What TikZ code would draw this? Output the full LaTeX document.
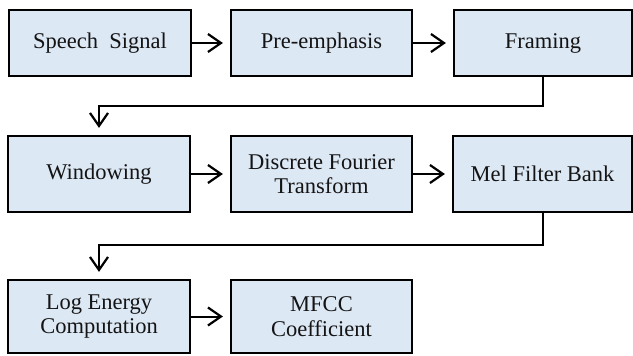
\documentclass[tikz,border=0pt]{standalone}
\usepackage{fontspec}
\setmainfont{Liberation Serif}
\newfontfamily\serifbox{Liberation Serif}
\usetikzlibrary{arrows.meta}
\definecolor{boxfill}{RGB}{221,232,245}
\definecolor{txt}{RGB}{20,20,20}
\begin{document}
\begin{tikzpicture}[x=1pt,y=-1pt,
  stepbox/.style={draw=black,line width=2.2pt,fill=boxfill,inner sep=0pt,
    text=txt,align=center,font=\serifbox\fontsize{22.5}{24.5}\selectfont},
  conn/.style={line width=2pt,-{Straight Barb[length=13pt,width=18pt,line width=2.2pt]},shorten >=7pt}]
\useasboundingbox (0,0) rectangle (633,356);
% row 1
\node[stepbox,minimum width=182pt,minimum height=66pt] (sp) at (100,43) {Speech\ \ Signal};
\node[stepbox,minimum width=181pt,minimum height=66pt] (pe) at (321.5,43) {Pre-emphasis};
\node[stepbox,minimum width=178pt,minimum height=66pt] (fr) at (543,43) {Framing};
% row 2
\node[stepbox,minimum width=182pt,minimum height=76pt] (wi) at (99,174) {Windowing};
\node[stepbox,minimum width=181pt,minimum height=76pt] (df) at (321.5,174) {Discrete Fourier\\Transform};
\node[stepbox,minimum width=179pt,minimum height=76pt] (mel) at (542.5,174) {Mel Filter Bank};
% row 3
\node[stepbox,minimum width=182pt,minimum height=73pt] (le) at (99,316.5) {Log Energy\\Computation};
\node[stepbox,minimum width=181pt,minimum height=73pt] (mf) at (321.5,316.5) {MFCC\\Coefficient};
% routing coordinates
\coordinate (r1) at (0,106);
\coordinate (r2) at (0,245);
% connectors
\draw[conn] (sp) -- (pe);
\draw[conn] (pe) -- (fr);
\draw[conn] (fr.south) -- (fr.south |- r1) -- (wi.north |- r1) -- (wi.north);
\draw[conn] (wi) -- (df);
\draw[conn] (df) -- (mel);
\draw[conn] (mel.south) -- (mel.south |- r2) -- (le.north |- r2) -- (le.north);
\draw[conn] (le) -- (mf);
\end{tikzpicture}
\end{document}
